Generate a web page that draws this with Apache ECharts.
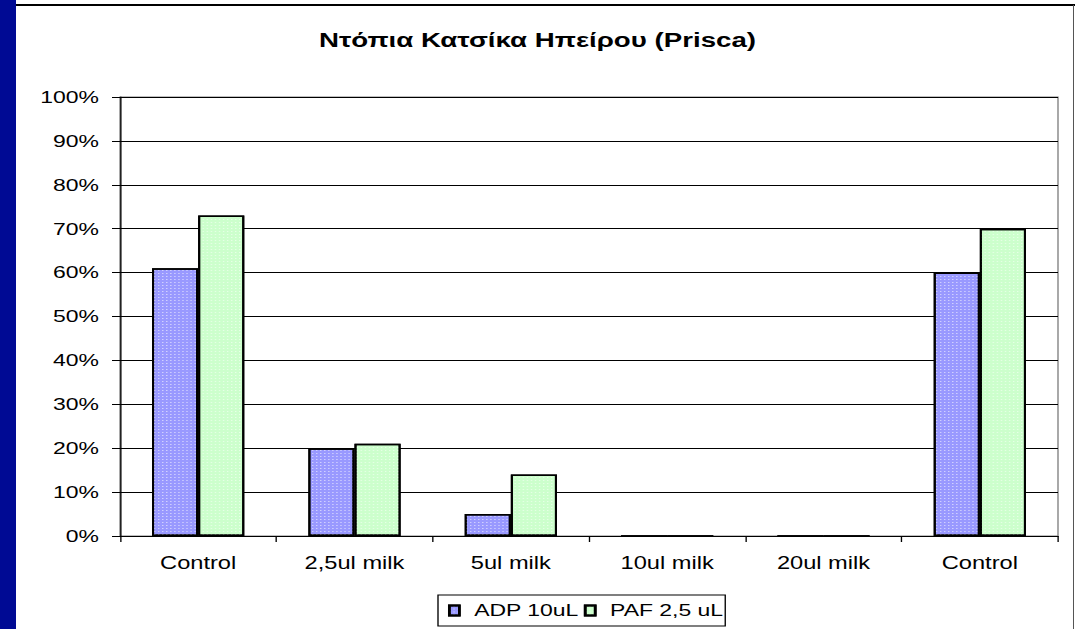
<!DOCTYPE html>
<html>
<head>
<meta charset="utf-8">
<script src="https://cdn.jsdelivr.net/npm/echarts@6/dist/echarts.min.js"></script>
<style>
  html, body { margin: 0; padding: 0; background: #fff; overflow: hidden; }
  /* 原图横向拉伸，约 1.35 倍 */
  #chart { width: 796px; height: 629px; transform: scaleX(1.3505); transform-origin: 0 0; }
</style>
</head>
<body>
<div id="chart"></div>
<script>
// 数据
const categories = ['Control', '2,5ul milk', '5ul milk', '10ul milk', '20ul milk', 'Control'];
const adpValues = [61, 20, 5, 0, 0, 60];
const pafValues = [73, 21, 14, 0, 0, 70];
const seriesNames = ['ADP 10uL', 'PAF 2,5 uL'];
const titleText = 'Ντόπια Κατσίκα Ηπείρου (Prisca)';

const FONT = 'Liberation Sans, Arial, sans-serif';
const S = 1075 / 796; // 横向缩放系数

// 点状纹理
function dots() {
  return {
    symbol: 'rect',
    symbolSize: 1,
    color: 'rgba(255,255,255,0.55)',
    dashArrayX: [1, 2],
    dashArrayY: [1, 2],
    rotation: 0
  };
}

const chart = echarts.init(document.getElementById('chart'), null, { renderer: 'svg' });

const option = {
  animation: false,
  backgroundColor: '#fff',
  title: {
    text: titleText,
    left: 'center',
    top: 24,
    textStyle: { fontFamily: FONT, fontSize: 20.5, fontWeight: 'bold', color: '#000' }
  },
  legend: {
    data: seriesNames,
    left: 438 / S,
    top: 595,
    padding: [7, 1.5, 7, 7.4],
    itemGap: 3.7,
    itemWidth: 10 / S,
    itemHeight: 10,
    icon: 'rect',
    borderColor: '#000',
    borderWidth: 1,
    textStyle: { fontFamily: FONT, fontSize: 17, color: '#000', padding: [0, 0, 0, 6] }
  },
  grid: {
    left: 120 / S,
    right: 17 / S,
    top: 97,
    bottom: 93,
    show: true,
    borderColor: '#808080',
    borderWidth: 1
  },
  xAxis: {
    type: 'category',
    data: categories,
    axisLine: { lineStyle: { color: '#000', width: 1 } },
    axisTick: { show: true, length: 6, lineStyle: { color: '#000' } },
    axisLabel: { fontFamily: FONT, fontSize: 17.5, color: '#000', margin: 18 }
  },
  yAxis: {
    type: 'value',
    min: 0,
    max: 100,
    interval: 10,
    axisLine: { show: true, lineStyle: { color: '#000', width: 1 } },
    axisTick: { show: true, length: 8 / S, lineStyle: { color: '#000' } },
    axisLabel: {
      fontFamily: FONT, fontSize: 17, color: '#000', margin: 21 / S,
      formatter: v => v + '%'
    },
    splitLine: { show: true, lineStyle: { color: '#000', width: 1 } }
  },
  series: [
    {
      name: seriesNames[0],
      type: 'bar',
      data: adpValues,
      barGap: '0%',
      barCategoryGap: '41%',
      itemStyle: { color: '#9999ff', borderColor: '#000', borderWidth: 1.5, decal: dots() }
    },
    {
      name: seriesNames[1],
      type: 'bar',
      data: pafValues,
      itemStyle: { color: '#ccffcc', borderColor: '#000', borderWidth: 1.5, decal: dots() }
    }
  ],
  graphic: [
    // 左侧蓝色条
    { type: 'rect', left: 0, top: 0, shape: { width: 16 / S, height: 629 }, style: { fill: '#000a94' }, z: 10 },
    // 顶部黑线
    { type: 'rect', left: 16 / S, top: 4, shape: { width: 796, height: 2 }, style: { fill: '#000' }, z: 10 },
    // 右侧边线
    { type: 'rect', left: 1073 / S, top: 5, shape: { width: 1 / S, height: 624 }, style: { fill: '#555' }, z: 10 }
  ]
};

chart.setOption(option);
</script>
</body>
</html>
